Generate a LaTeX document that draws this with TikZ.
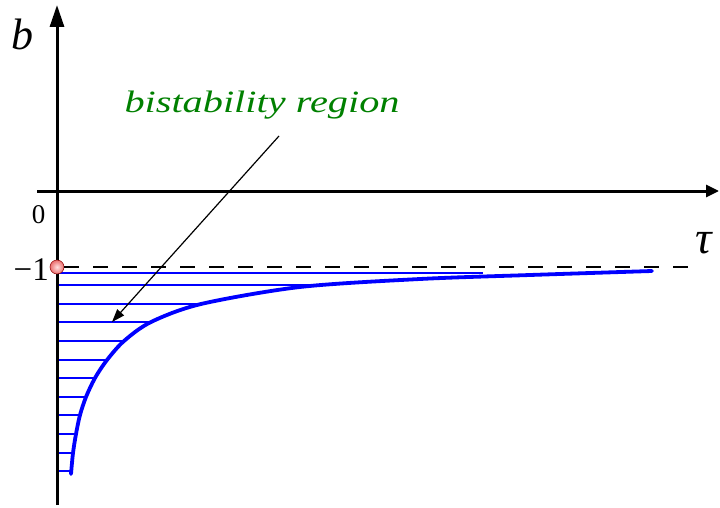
\documentclass[tikz,border=0pt]{standalone}
\usepackage{fontspec}
\setmainfont{Liberation Serif}
\newfontfamily\widefont[FakeStretch=1.3]{Liberation Serif}
\usetikzlibrary{arrows.meta,positioning}
\definecolor{bgreen}{RGB}{0,128,0}
\definecolor{bblue}{RGB}{0,0,255}
\definecolor{bred}{RGB}{235,110,110}

\begin{document}
\begin{tikzpicture}[x=1pt,y=-1pt,axis/.style={line width=3pt,black},lbl/.style={inner sep=0pt,anchor=base},hatch/.style={bblue,line width=1.3pt},curve/.style={bblue,line width=3.8pt,line cap=round,line join=round},arr/.style={-{Triangle[length=13pt,width=9pt]},line width=1.2pt,black},dot/.style={circle,minimum size=14pt,inner sep=0pt,shading=radial,inner color=red!12,outer color=bred,draw=red!55!black,line width=.5pt}]
\useasboundingbox (0,0) rectangle (720,508);
% axes
\coordinate (ybot) at (57,505); \coordinate (ytop) at (57,5);
\coordinate (xl) at (37,191); \coordinate (xr) at (719,191);
% bistability region, hatched up to the boundary curve
\foreach \yy/\xx in {273/483,285/317,304/205,322/152,341/123,360/108,378/96,397/87,415/82,434/75,453/72,471/70}
  \draw[hatch] (57,\yy) -- (\xx,\yy);
\draw[axis,-{Triangle[length=22pt,width=14pt]}] (ybot) -- (ytop);
\draw[axis,-{Triangle[length=13pt,width=12pt]}] (xl) -- (xr);
\coordinate (dend) at (697,267);
\node[dot] (m1) at (57,267) {};
\draw[line width=2pt,dash pattern=on 15pt off 14pt] (m1.east) -- (dend);
\draw[curve] plot[smooth] coordinates {(71,474) (73,453) (76,434) (80,415) (86,397) (95,378) (107,360) (124,341) (151,322) (201,304) (300,287) (420,279) (530,275) (652,271)};
% labels
\node[lbl,font=\itshape\fontsize{44}{44}\selectfont] (b) at (22,50) {b};
\node[lbl,font=\itshape\fontsize{46}{46}\selectfont] (tau) at (704,253) {τ};
\node[lbl,font=\fontsize{27}{27}\selectfont] (zero) at (38.5,223) {0};
\node[lbl,anchor=base east,font=\fontsize{33}{33}\selectfont] (mone) at (49,280) {−1};
\node[lbl,font=\widefont\itshape\fontsize{31}{31}\selectfont,text=bgreen] (region) at (262,113) {bistability region};
\coordinate (from) at (279,136); \coordinate (tip) at (112,322);
\draw[arr] (from) -- (tip);
\end{tikzpicture}
\end{document}
